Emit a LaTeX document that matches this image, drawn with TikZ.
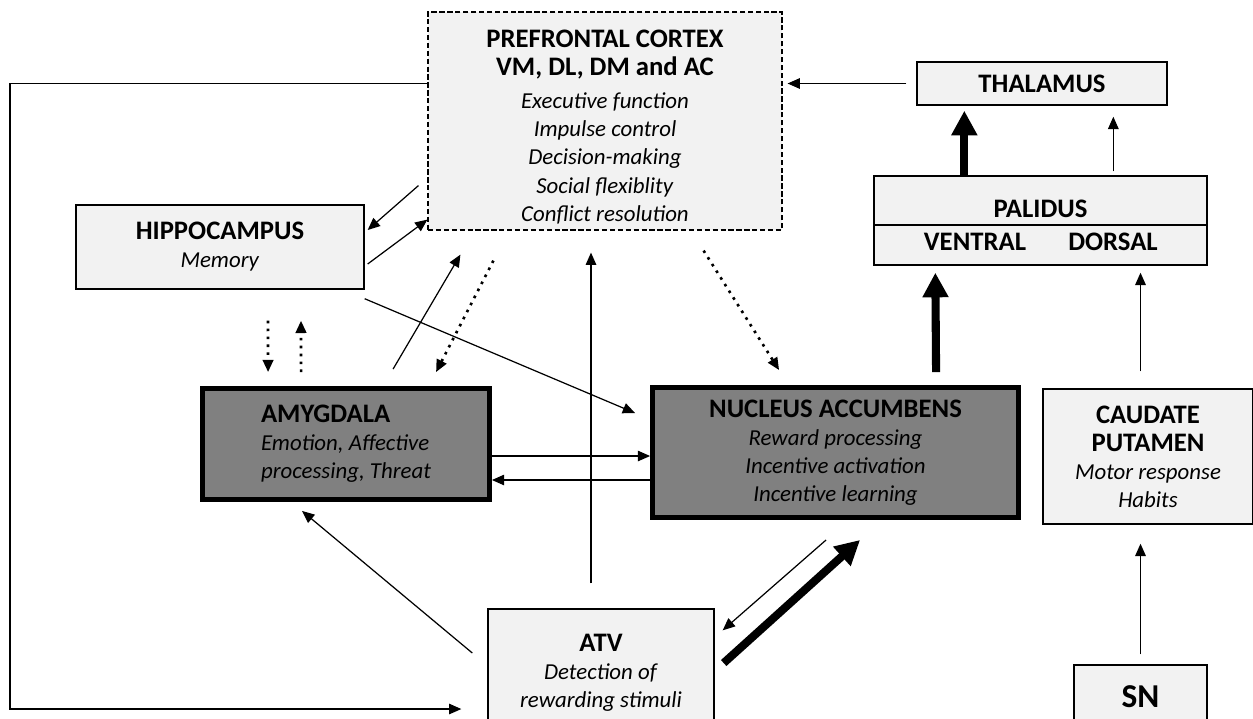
\documentclass[tikz,border=0pt]{standalone}
\usepackage{fontspec}
\setmainfont{Carlito}
\usepackage{tikz}
\usetikzlibrary{positioning, calc, arrows.meta}
\definecolor{boxfill}{HTML}{F2F2F2}
\definecolor{corefill}{HTML}{808080}
\newcommand{\areaname}[1]{{\fontsize{15.2}{16}\selectfont\bfseries #1}}
\newcommand{\areatask}[1]{\textit{#1}}

\begin{document}
\begin{tikzpicture}[x=0.02cm, y=-0.02cm]
	\tikzset{box/.style={draw, fill=boxfill, line width=0.8pt, align=center, inner sep=0pt, font=\fontsize{13}{16}\selectfont}}
	\tikzset{core/.style={box, fill=corefill, line width=2.8pt}}
	\tikzset{arrow/.style={-{Triangle[length=7pt, width=6pt]}, line width=0.7pt}}
	\tikzset{dots/.style={arrow, line width=1.5pt, dash pattern=on 1.5pt off 3pt}}
	\tikzset{bold/.style={-{Triangle[length=14pt, width=14pt]}, line width=4.6pt}}

	\useasboundingbox (0,0) rectangle (1253,718);
	\clip (0,0) rectangle (1253,718);

	% boxes
	\node (pfc) [box, dash pattern=on 3pt off 1.5pt, line width=0.7pt, minimum width=7.08cm, minimum height=4.36cm] at (605,121)
		{\rule{0pt}{16.5pt}\areaname{PREFRONTAL CORTEX}\\\areaname{VM, DL, DM and AC}\\[3pt]\areatask{Executive function}\\\areatask{Impulse control}\\\areatask{Decision-making}\\\areatask{Social flexiblity}\\\areatask{Conflict resolution}};
	\node (thal) [box, minimum width=5cm, minimum height=0.86cm] at (1042,83.5) {\areaname{THALAMUS}};
	\node (pal) [box, minimum width=6.66cm, minimum height=1.78cm] at (1040.5,220.5) {};
	\node (hippo) [box, minimum width=5.76cm, minimum height=1.68cm] at (220,247) {\areaname{HIPPOCAMPUS}\\\areatask{Memory}};
	\node (amyg) [core, align=left, minimum width=5.74cm, minimum height=2.22cm] at (346,444)
		{\areaname{AMYGDALA}\\\areatask{Emotion, Affective}\\\areatask{processing, Threat}};
	\node (nacc) [core, minimum width=7.32cm, minimum height=2.6cm] at (835.5,452.5)
		{\areaname{NUCLEUS ACCUMBENS}\\\areatask{Reward processing}\\\areatask{Incentive activation}\\\areatask{Incentive learning}};
	\node (caud) [box, minimum width=4.2cm, minimum height=2.7cm] at (1148,456.5)
		{\areaname{CAUDATE}\\\areaname{PUTAMEN}\\\areatask{Motor response}\\\areatask{Habits}};
	\node (atv) [box, minimum width=4.52cm, minimum height=2.56cm] at (601,673)
		{\areaname{ATV}\\\areatask{Detection of}\\\areatask{rewarding stimuli}};
	\node (sn) [box, font=\fontsize{19}{20}\selectfont\bfseries, minimum width=2.66cm, minimum height=1.28cm] at (1140.5,697) {SN};

	% palidus parts
	\draw[line width=0.8pt] ($(pal.west)+(0,4.5)$) -- ($(pal.east)+(0,4.5)$);
	\node (palname) [anchor=base] at (1040.5,217) {\areaname{PALIDUS}};
	\node (ventral) [anchor=base] at (975,250) {\areaname{VENTRAL}};
	\node (dorsal) [anchor=base] at (1113,250) {\areaname{DORSAL}};

	\coordinate (loop) at (10,709);

	% connections
	\draw[arrow] ($(thal.west)+(-10,0)$) -- ($(thal.west -| pfc.east)+(5,0)$);
	\draw[arrow] (pfc.west |- thal.west) -| (loop) -- ($(loop -| atv.west)+(-26,0)$);
	\draw[bold] ($(pal.north west)+(91,0)$) -- ($(pal.north west |- thal.south)+(91,5)$);
	\draw[arrow] ($(pal.north west)+(240,-4)$) -- ($(pal.north west |- thal.south)+(240,11)$);
	\draw[bold] ($(nacc.north west)+(286,-13)$) -- ($(pal.south west)+(62,7)$);
	\draw[arrow] ($(caud.north -| sn.north)+(0,-17)$) -- ($(pal.south -| sn.north)+(0,7)$);
	\draw[arrow] ($(sn.north)+(0,-10)$) -- ($(caud.south -| sn.north)+(0,19)$);

	\draw[arrow] ($(pfc.south west)+(-9,-45)$) -- ($(hippo.east)+(3,-17)$);
	\draw[arrow] ($(hippo.east)+(3,17)$) -- ($(pfc.south west)+(0,-11)$);
	\draw[arrow] ($(hippo.south east)+(0,9)$) -- ($(nacc.north west)+(-15,28)$);
	\draw[dots] ($(hippo.south)+(48,31)$) -- ($(amyg.north west)+(68,-14)$);
	\draw[dots] ($(amyg.north west)+(101,-14)$) -- ($(hippo.south)+(81,31)$);
	\draw[arrow] ($(amyg.north west)+(193,-17)$) -- ($(pfc.south west)+(33,24)$);
	\draw[dots] ($(pfc.south west)+(66,30)$) -- ($(amyg.north west)+(236,-14)$);

	\draw[arrow] ($(amyg.east)+(0,12)$) -- ($(amyg.east -| nacc.west)+(0,12)$);
	\draw[arrow] ($(amyg.east -| nacc.west)+(0,36)$) -- ($(amyg.east)+(0,36)$);
	\draw[arrow] ($(atv.north)+(-10,-25)$) -- ($(atv.north |- pfc.south)+(-10,22)$);
	\draw[dots] ($(pfc.south east)+(-79,20)$) -- ($(nacc.north west)+(129,-15)$);
	\draw[bold] ($(atv.east)+(9,-10)$) -- ($(nacc.south west)+(210,20)$);
	\draw[arrow] ($(nacc.south west)+(176,20)$) -- ($(atv.north east)+(8,22)$);
	\draw[arrow] ($(atv.west)+(-15,-20)$) -- ($(amyg.south west)+(102,9)$);

\end{tikzpicture}
\end{document}
